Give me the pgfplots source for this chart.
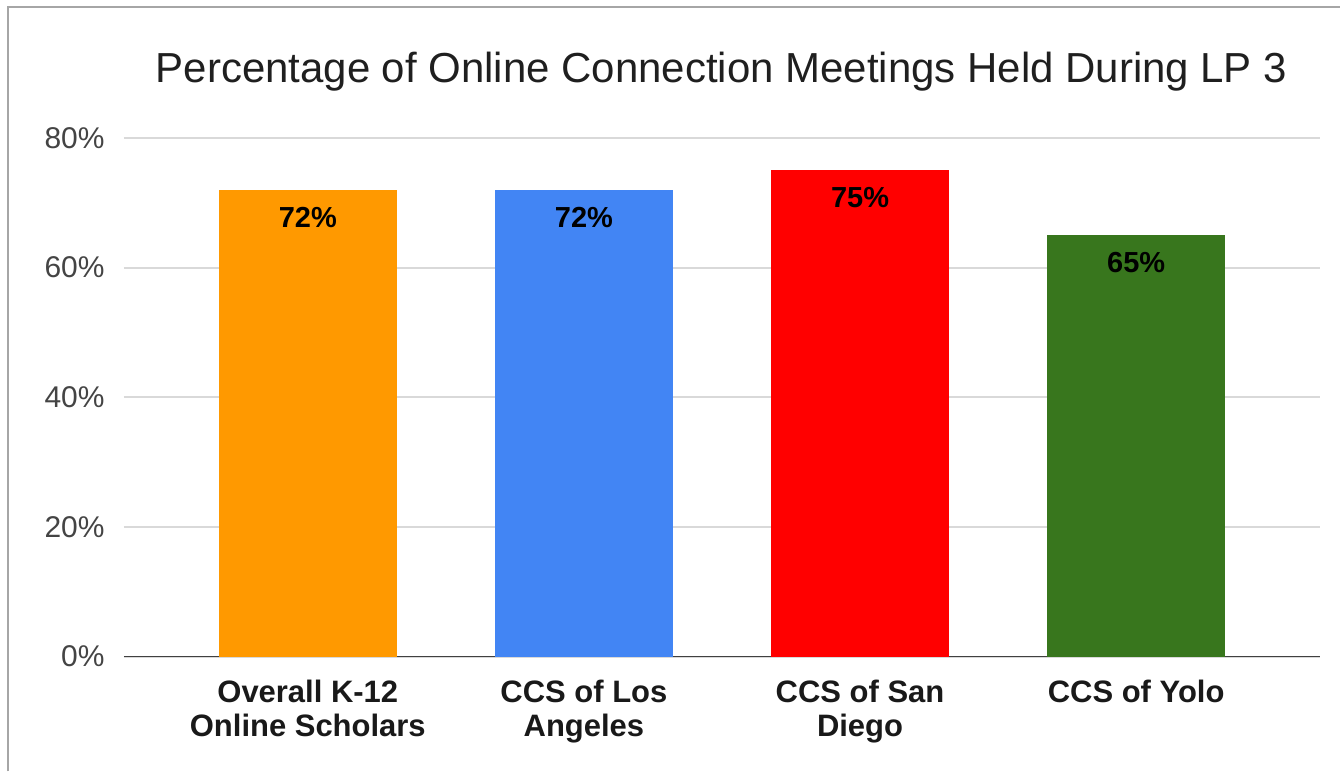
\documentclass[border=0pt]{standalone}
\usepackage{fontspec}
\setmainfont{Liberation Sans}
\usepackage{pgfplots}
\pgfplotsset{compat=1.18}
\definecolor{BarOrange}{HTML}{FF9900}
\definecolor{BarBlue}{HTML}{4285F4}
\definecolor{BarRed}{HTML}{FF0000}
\definecolor{BarGreen}{HTML}{38761D}
\definecolor{FrameGray}{HTML}{A6A6A6}
\definecolor{GridGray}{HTML}{D9D9D9}
\definecolor{TickGray}{HTML}{444444}

\begin{document}
\begin{tikzpicture}
% page frame (1px = 0.5pt)
\path (0,0) rectangle (670.5pt,386pt);
\draw[FrameGray, line width=1pt] (4pt,0) -- (4pt,382.3pt) -- (670.5pt,382.3pt);

\begin{axis}[
    at={(62pt,57.5pt)}, anchor=south west,
    scale only axis,
    width=598.5pt, height=259.5pt,
    xmin=-0.666, xmax=3.666,
    ymin=0, ymax=80,
    ybar, bar width=89pt, bar shift=0pt,
    axis x line*=bottom, axis y line*=left,
    y axis line style={draw=none},
    x axis line style={draw=black!75, line width=0.8pt, -},
    major tick length=0pt,
    xtick={0,1,2,3},
    xticklabels={{Overall K-12\\Online Scholars},{CCS of Los\\Angeles},{CCS of San\\Diego},{CCS of Yolo}},
    xticklabel style={align=center, anchor=north, inner sep=0pt, yshift=-11.5pt,
        font=\fontsize{15.5}{17}\selectfont\bfseries, text=black!90},
    ytick={0,20,40,60,80},
    yticklabels={0\%,20\%,40\%,60\%,80\%},
    yticklabel style={anchor=east, inner sep=0pt, xshift=-9.5pt,
        font=\fontsize{15}{18}\selectfont, text=TickGray},
    ymajorgrids,
    grid style={GridGray, line width=1pt},
    /pgf/number format/assume math mode=true,
    nodes near coords={\pgfmathprintnumber{\pgfplotspointmeta}\%},
    every node near coord/.append style={anchor=north, inner sep=0pt, yshift=-8.5pt,
        font=\fontsize{14.5}{16}\selectfont\bfseries, text=black},
]
\addplot[fill=BarOrange, draw=none] coordinates {(0,72)};
\addplot[fill=BarBlue, draw=none] coordinates {(1,72)};
\addplot[fill=BarRed, draw=none] coordinates {(2,75)};
\addplot[fill=BarGreen, draw=none] coordinates {(3,65)};
\end{axis}

\node[anchor=base, font=\fontsize{21}{24}\selectfont, text=black!88] at (361pt,344.5pt)
    {Percentage of Online Connection Meetings Held During LP 3};
\end{tikzpicture}
\end{document}
